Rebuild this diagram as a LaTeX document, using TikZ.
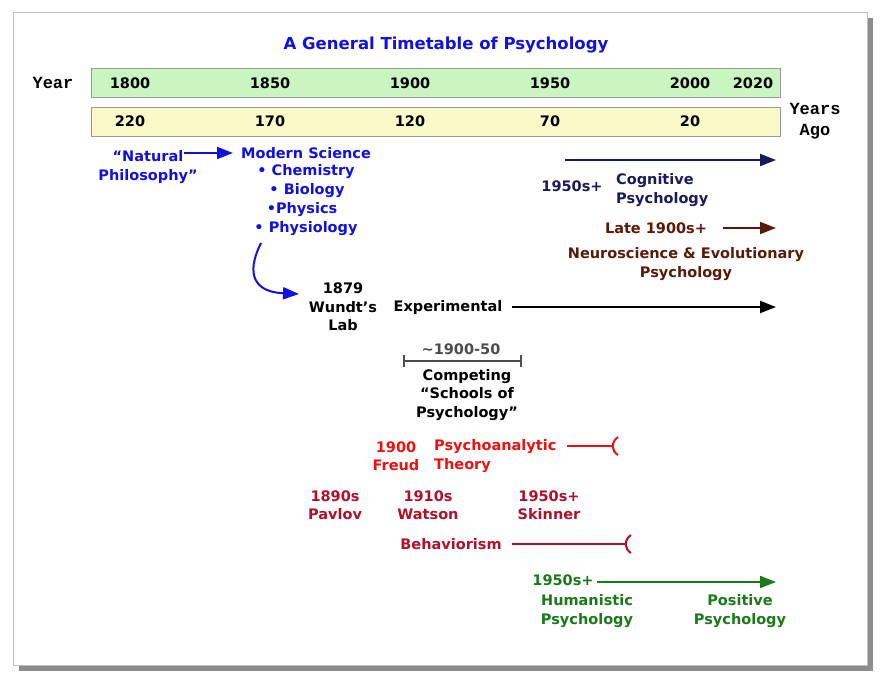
\documentclass[tikz,border=0pt]{standalone}
\usepackage{fontspec}
\setmainfont{DejaVu Sans}
\newfontfamily\cour{Liberation Mono}
\usetikzlibrary{arrows.meta,shadows}
\definecolor{tblue}{HTML}{1010E0}
\definecolor{navy}{HTML}{1A1A5A}
\definecolor{brn}{HTML}{5A1A0A}
\definecolor{rd}{HTML}{F01010}
\definecolor{drd}{HTML}{B0102A}
\definecolor{grn}{HTML}{1A7A1A}
\definecolor{gbar}{HTML}{C8F5C0}
\definecolor{ybar}{HTML}{FAFAC8}
\begin{document}
\begin{tikzpicture}[x=1pt,y=-1pt,
 t/.style={font=\fontsize{14.5}{18.5}\selectfont\bfseries,inner sep=0pt,align=center},
 tl/.style={t,anchor=west,align=left},
 cr/.style={font=\fontsize{17}{21}\selectfont\cour\bfseries,inner sep=0pt,align=left},
 arr/.style={line width=2pt,-{Triangle[length=16pt,width=12pt]}},
 bar/.style={draw=gray!80,line width=0.8pt}]
\useasboundingbox (0,0) rectangle (893,691);
\fill[white] (0,0) rectangle (893,691);
\fill[black!45] (19,18) rectangle (873,671);
\fill[white,draw=gray!50] (13,12) rectangle (867,665);
\node[t,text=tblue,font=\fontsize{16.5}{20}\selectfont\bfseries] (title) at (446,45) {A General Timetable of Psychology};
\node[bar,fill=gbar,minimum width=689pt,minimum height=29pt,anchor=north west] (gb) at (91,68) {};
\node[bar,fill=ybar,minimum width=689pt,minimum height=29pt,anchor=north west] (yb) at (91,107) {};
\node[cr] (year) at (53,83) {Year};
\node[cr,align=center] (ago) at (815,121) {Years\\Ago};
\foreach \x/\y/\n in {130/1800/a,270/1850/b,410/1900/c,550/1950/d,690/2000/e,753/2020/f}
  \node[t] (y\n) at (\x,83) {\y};
\foreach \x/\y/\n in {130/220/a,270/170/b,410/120/c,550/70/d,690/20/e}
  \node[t] (g\n) at (\x,121) {\y};
\node[t,text=tblue] (nat) at (148,167) {“Natural\\Philosophy”};
\node[t,text=tblue] (ms) at (306,153) {Modern Science};
\node[t,text=tblue] (chem) at (306,172) {\textbullet\ Chemistry};
\node[t,text=tblue] (bio) at (307,191) {\textbullet\ Biology};
\node[t,text=tblue] (phy) at (302,210) {\textbullet Physics};
\node[t,text=tblue] (phys) at (306,229) {\textbullet\ Physiology};
\coordinate (n1) at (184,153); \coordinate (n2) at (233,153);
\draw[arr,tblue] (n1) -- (n2);
\coordinate (c1) at (261,243); \coordinate (c2) at (299,294);
\draw[arr,tblue] (c1) .. controls (245,275) and (255,292) .. (c2);
\node[t] (wundt) at (343,307) {1879\\Wundt’s\\Lab};
\node[t] (exp) at (448,307) {Experimental};
\coordinate (e1) at (512,307); \coordinate (e2) at (776,307);
\draw[arr,black] (e1) -- (e2);
\coordinate (cg1) at (565,160); \coordinate (cg2) at (776,160);
\draw[arr,navy] (cg1) -- (cg2);
\node[t,text=navy] (c50) at (572,186) {1950s+};
\node[tl,text=navy] (cog) at (616,190) {Cognitive\\Psychology};
\node[t,text=brn] (late) at (656,228) {Late 1900s+};
\coordinate (l1) at (723,228); \coordinate (l2) at (776,228);
\draw[arr,brn] (l1) -- (l2);
\node[t,text=brn] (neuro) at (686,264) {Neuroscience \& Evolutionary\\Psychology};
\node[t,text=gray!60!black] (cs) at (461,349) {\textasciitilde1900-50};
\coordinate (b1) at (404,361); \coordinate (b2) at (521,361);
\draw[gray!60!black,line width=2pt] (b1) -- (b2);
\draw[gray!60!black,line width=2pt] (404,355) -- (404,367) (521,355) -- (521,367);
\node[t] (comp) at (467,395) {Competing\\“Schools of\\Psychology”};
\node[t,text=rd] (freud) at (396,456) {1900\\Freud};
\node[tl,text=rd] (psy) at (434,456) {Psychoanalytic\\Theory};
\coordinate (p1) at (567,446); \coordinate (p2) at (612,446);
\draw[rd,line width=2pt] (p1) -- (p2);
\draw[rd,line width=2pt] (618,437) arc[start angle=120,end angle=240,radius=10.4pt];
\node[t,text=drd] (pav) at (335,505) {1890s\\Pavlov};
\node[t,text=drd] (wat) at (428,505) {1910s\\Watson};
\node[t,text=drd] (ski) at (549,505) {1950s+\\Skinner};
\node[t,text=drd] (beh) at (451,544) {Behaviorism};
\coordinate (h1) at (512,544); \coordinate (h2) at (625,544);
\draw[drd,line width=2pt] (h1) -- (h2);
\draw[drd,line width=2pt] (631,535) arc[start angle=120,end angle=240,radius=10.4pt];
\node[t,text=grn] (g50) at (563,580) {1950s+};
\coordinate (gr1) at (597,582); \coordinate (gr2) at (776,582);
\draw[arr,grn] (gr1) -- (gr2);
\node[t,text=grn] (hum) at (587,611) {Humanistic\\Psychology};
\node[t,text=grn] (pos) at (740,611) {Positive\\Psychology};
\end{tikzpicture}
\end{document}
